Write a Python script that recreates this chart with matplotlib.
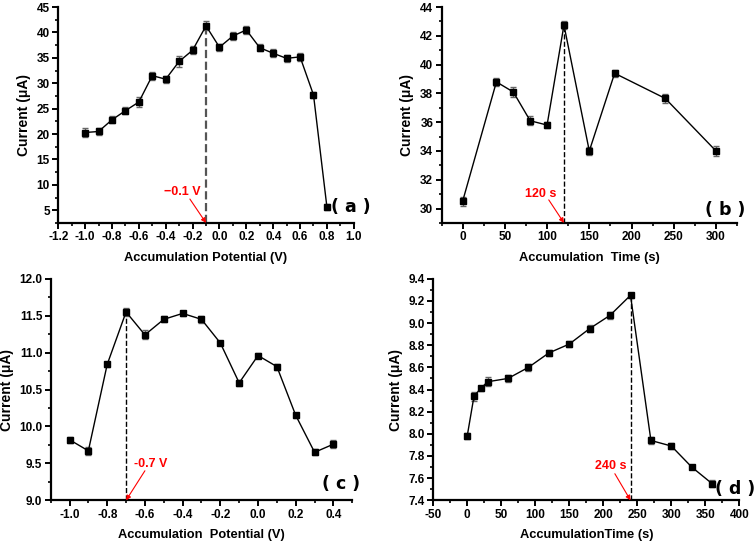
import numpy as np
import matplotlib
matplotlib.use("Agg")
import matplotlib.pyplot as plt
from matplotlib.ticker import MultipleLocator, AutoMinorLocator

plt.rcParams["font.family"] = ["Liberation Sans", "DejaVu Sans"]
plt.rcParams["font.weight"] = "bold"

# (a) accumulation potential
pot_a = [-1.0, -0.9, -0.8, -0.7, -0.6, -0.5, -0.4, -0.3, -0.2, -0.1,
         0.0, 0.1, 0.2, 0.3, 0.4, 0.5, 0.6, 0.7, 0.8]
cur_a = [20.3, 20.5, 22.8, 24.6, 26.3, 31.5, 30.8, 34.3, 36.5, 41.3,
         37.1, 39.3, 40.5, 37.0, 35.9, 34.9, 35.2, 27.7, 5.6]
err_a = [0.8, 0.7, 0.7, 0.7, 1.0, 0.8, 0.7, 1.1, 0.8, 0.9,
         0.7, 0.7, 0.8, 0.7, 0.8, 0.7, 0.8, 0.6, 0.6]

# (b) accumulation time
time_b = [0, 40, 60, 80, 100, 120, 150, 180, 240, 300]
cur_b = [30.5, 38.8, 38.1, 36.1, 35.8, 42.75, 34.0, 39.4, 37.65, 34.0]
err_b = [0.3, 0.3, 0.35, 0.3, 0.2, 0.3, 0.3, 0.25, 0.3, 0.35]

# (c) accumulation potential
pot_c = [-1.0, -0.9, -0.8, -0.7, -0.6, -0.5, -0.4, -0.3, -0.2, -0.1,
         0.0, 0.1, 0.2, 0.3, 0.4]
cur_c = [9.82, 9.67, 10.84, 11.55, 11.24, 11.45, 11.53, 11.45, 11.13, 10.59,
         10.96, 10.81, 10.15, 9.65, 9.76]
err_c = [0.04, 0.05, 0.03, 0.05, 0.06, 0.04, 0.03, 0.05, 0.03, 0.04,
         0.04, 0.04, 0.03, 0.04, 0.05]

# (d) accumulation time
time_d = [0, 10, 20, 30, 60, 90, 120, 150, 180, 210, 240, 270, 300, 330, 360]
cur_d = [7.98, 8.34, 8.41, 8.47, 8.50, 8.60, 8.73, 8.81, 8.95, 9.07,
         9.25, 7.94, 7.89, 7.70, 7.55]
err_d = [0.03, 0.04, 0.02, 0.04, 0.03, 0.03, 0.03, 0.03, 0.03, 0.03,
         0.02, 0.03, 0.03, 0.02, 0.03]

fig = plt.figure(figsize=(7.56, 5.45), dpi=100)

panels = [
    dict(rect=[0.077, 0.591, 0.391, 0.396], x=pot_a, y=cur_a, e=err_a,
         xlim=(-1.2, 1.0), ylim=(2.5, 45), xmaj=0.2, ymaj=5,
         xlabel="Accumulation Potential (V)", peak=-0.1, dash="#555555", dlw=1.6,
         txt="\u22120.1 V", txy=(-0.28, 8.6), arr=(-0.22, 7.2), lab="( a )",
         labxy=(0.99, 0.074), xfmt="%.1f", yfmt="%d"),
    dict(rect=[0.584, 0.591, 0.391, 0.396], x=time_b, y=cur_b, e=err_b,
         xlim=(-25, 325), ylim=(29, 44), xmaj=50, ymaj=2,
         xlabel="Accumulation  Time (s)", peak=120, dash="black", dlw=1.0,
         txt="120 s", txy=(93, 31.0), arr=(102, 30.6), lab="( b )",
         labxy=(0.961, 0.06), xfmt="%d", yfmt="%d"),
    dict(rect=[0.067, 0.082, 0.399, 0.4066], x=pot_c, y=cur_c, e=err_c,
         xlim=(-1.1, 0.5), ylim=(9.0, 12.0), xmaj=0.2, ymaj=0.5,
         xlabel="Accumulation  Potential (V)", peak=-0.7, dash="black", dlw=1.0,
         txt="-0.7 V", txy=(-0.57, 9.49), arr=(-0.6, 9.4), lab="( c )",
         labxy=(0.963, 0.075), xfmt="%.1f", yfmt="%.1f"),
    dict(rect=[0.573, 0.082, 0.405, 0.4066], x=time_d, y=cur_d, e=err_d,
         xlim=(-50, 400), ylim=(7.4, 9.4), xmaj=50, ymaj=0.2,
         xlabel="AccumulationTime (s)", peak=240, dash="black", dlw=1.0,
         txt="240 s", txy=(211, 7.71), arr=(217, 7.64), lab="( d )",
         labxy=(0.986, 0.052), xfmt="%d", yfmt="%.1f"),
]

for p in panels:
    ax = fig.add_axes(p["rect"])
    ax.errorbar(p["x"], p["y"], yerr=p["e"], fmt="s-", color="black",
                ms=4.5, lw=1.0, ecolor="#666666", elinewidth=1.0,
                capsize=2, capthick=1.0, zorder=3)
    ax.set_xlim(*p["xlim"])
    ax.set_ylim(*p["ylim"])
    ipk = p["x"].index(p["peak"])
    ax.plot([p["peak"], p["peak"]], [p["ylim"][0], p["y"][ipk]], "--",
            color=p["dash"], lw=p["dlw"], zorder=2)
    ax.text(p["txy"][0], p["txy"][1], p["txt"], color="red", fontsize=9,
            fontweight="bold", ha="center", va="center")
    ax.annotate("", xy=(p["peak"], p["ylim"][0]), xytext=p["arr"],
                arrowprops=dict(arrowstyle="-|>", color="red", lw=0.8,
                                mutation_scale=7, shrinkA=0, shrinkB=0))
    ax.text(p["labxy"][0], p["labxy"][1], p["lab"], transform=ax.transAxes,
            fontsize=12.5, fontweight="bold", family="DejaVu Sans",
            ha="center", va="center", clip_on=False)
    ax.xaxis.set_major_locator(MultipleLocator(p["xmaj"]))
    ax.yaxis.set_major_locator(MultipleLocator(p["ymaj"]))
    ax.xaxis.set_minor_locator(AutoMinorLocator(2))
    ax.yaxis.set_minor_locator(AutoMinorLocator(2))
    ax.xaxis.set_major_formatter(matplotlib.ticker.FormatStrFormatter(p["xfmt"]))
    ax.yaxis.set_major_formatter(matplotlib.ticker.FormatStrFormatter(p["yfmt"]))
    for s in ["top", "right"]:
        ax.spines[s].set_visible(False)
    for s in ["left", "bottom"]:
        ax.spines[s].set_linewidth(1.6)
    ax.tick_params(which="major", direction="out", length=4, width=1.4,
                   labelsize=8.5, pad=2)
    ax.tick_params(which="minor", direction="out", length=2.5, width=1.2)
    for t in ax.get_xticklabels() + ax.get_yticklabels():
        t.set_fontweight("bold")
    ax.set_xlabel(p["xlabel"], fontsize=9.3, fontweight="bold", labelpad=6)
    ax.set_ylabel("Current (\u03bcA)", fontsize=10, fontweight="bold", labelpad=4)

fig.savefig("out.png", dpi=100)
